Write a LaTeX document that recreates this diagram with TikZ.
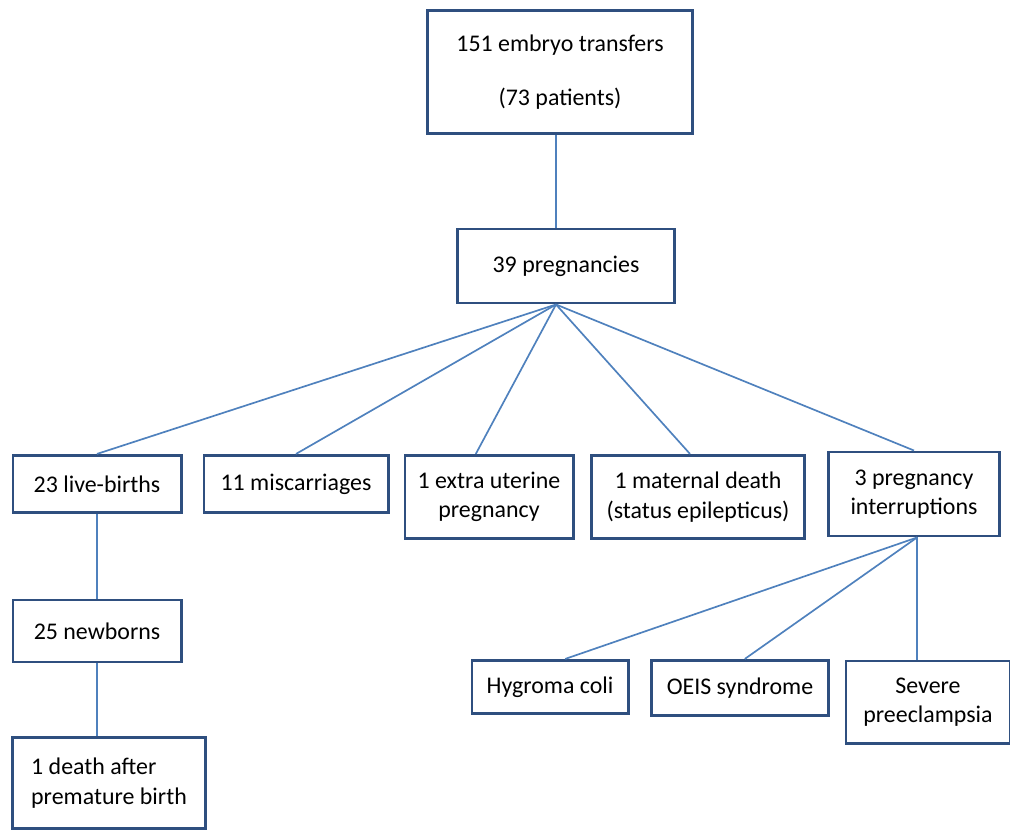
\documentclass[tikz,border=0pt]{standalone}
\usepackage{fontspec}
\setmainfont{Carlito}
\usepackage{tikz}
\usetikzlibrary{positioning}
\definecolor{boxblue}{HTML}{2F4F7F}
\definecolor{lineblue}{HTML}{4F81BD}
\tikzset{
    box/.style={
           rectangle,
           draw=boxblue, line width=2.1pt,
           fill=white,
           align=center,
           inner sep=2pt,
           font=\fontsize{17}{21}\selectfont
           },
    link/.style={
           draw=lineblue,
           line width=1.2pt
           }
}

\begin{document}
\begin{tikzpicture}[x=0.025cm, y=-0.025cm]
   \useasboundingbox (0,0) rectangle (1010,829);
   % top levels
   \node[box, minimum width=6.63cm, minimum height=3.08cm] (transfers) at (560,72) {151 embryo transfers\\[17pt](73 patients)};
   \node[box, minimum width=5.43cm, minimum height=1.85cm] (preg) at (566,266) {39 pregnancies};
   % outcomes
   \node[box, minimum width=4.2cm, minimum height=1.43cm] (live) at (97,484) {23 live-births};
   \node[box, minimum width=4.6cm, minimum height=1.43cm] (misc) at (296,484) {11 miscarriages};
   \node[box, minimum width=4.2cm, minimum height=2.08cm] (extra) at (489,497) {1 extra uterine\\pregnancy};
   \node[box, minimum width=5.33cm, minimum height=2.08cm] (maternal) at (698,497) {1 maternal death\\(status epilepticus)};
   \node[box, minimum width=4.28cm, minimum height=2.1cm] (interrupt) at (914,494) {3 pregnancy\\interruptions};
   % births
   \node[box, minimum width=4.2cm, minimum height=1.55cm] (newborns) at (97,631) {25 newborns};
   \node[box, minimum width=4.8cm, minimum height=2.28cm, align=left] (death) at (109,783) {1 death after\\premature birth};
   % interruptions
   \node[box, minimum width=3.9cm, minimum height=1.33cm] (hygroma) at (550,687) {Hygroma coli};
   \node[box, minimum width=4.43cm, minimum height=1.38cm] (oeis) at (740,688) {OEIS syndrome};
   \node[box, minimum width=4.1cm, minimum height=2.05cm] (preecl) at (928,702) {Severe\\preeclampsia};

   \path[link]
    (transfers.south -| preg.north) ++(-10,0) coordinate (t0) -- (t0 |- preg.north);
   \path[link]
    (preg.south) ++(-10,0) coordinate (p0)
    (p0) edge (live.north)
    (p0) edge (misc.north)
    (p0) edge ([xshift=-0.33cm]extra.north)
    (p0) edge ([xshift=-0.2cm]maternal.north)
    (p0) edge (interrupt.north);
   \path[link]
    (live.south) -- (newborns.north)
    (newborns.south) -- (newborns.south |- death.north);
   \path[link]
    (interrupt.south) ++(3,0) coordinate (i0)
    (i0) edge ([xshift=0.38cm]hygroma.north)
    (i0) edge ([xshift=0.12cm]oeis.north)
    (i0) edge (i0 |- preecl.north);
\end{tikzpicture}
\end{document}
